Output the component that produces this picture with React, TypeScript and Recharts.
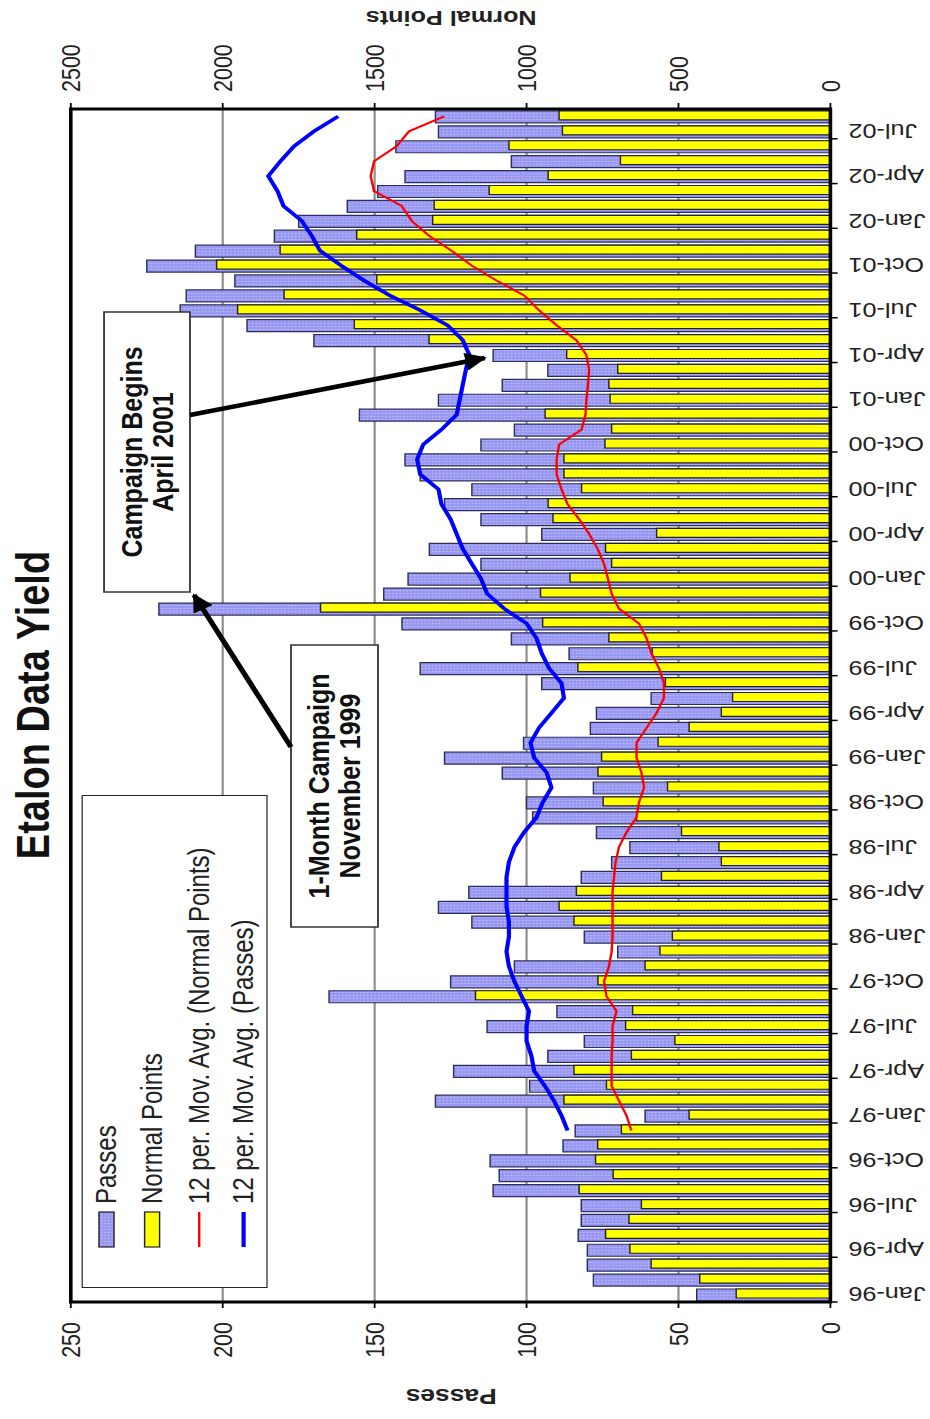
import { ComposedChart, Bar, Line, XAxis, YAxis, CartesianGrid, Legend } from 'recharts';

const months = [
  'Jan-96', 'Feb-96', 'Mar-96', 'Apr-96', 'May-96', 'Jun-96', 'Jul-96', 'Aug-96', 'Sep-96', 'Oct-96', 'Nov-96', 'Dec-96',
  'Jan-97', 'Feb-97', 'Mar-97', 'Apr-97', 'May-97', 'Jun-97', 'Jul-97', 'Aug-97', 'Sep-97', 'Oct-97', 'Nov-97', 'Dec-97',
  'Jan-98', 'Feb-98', 'Mar-98', 'Apr-98', 'May-98', 'Jun-98', 'Jul-98', 'Aug-98', 'Sep-98', 'Oct-98', 'Nov-98', 'Dec-98',
  'Jan-99', 'Feb-99', 'Mar-99', 'Apr-99', 'May-99', 'Jun-99', 'Jul-99', 'Aug-99', 'Sep-99', 'Oct-99', 'Nov-99', 'Dec-99',
  'Jan-00', 'Feb-00', 'Mar-00', 'Apr-00', 'May-00', 'Jun-00', 'Jul-00', 'Aug-00', 'Sep-00', 'Oct-00', 'Nov-00', 'Dec-00',
  'Jan-01', 'Feb-01', 'Mar-01', 'Apr-01', 'May-01', 'Jun-01', 'Jul-01', 'Aug-01', 'Sep-01', 'Oct-01', 'Nov-01', 'Dec-01',
  'Jan-02', 'Feb-02', 'Mar-02', 'Apr-02', 'May-02', 'Jun-02', 'Jul-02', 'Aug-02',
];

const passes = [
  44, 78, 80, 80, 83, 82, 82, 111, 109, 112, 88, 84,
  61, 130, 99, 124, 93, 81, 113, 90, 165, 125, 104, 70,
  81, 118, 129, 119, 82, 72, 66, 77, 98, 100, 78, 108,
  127, 101, 79, 77, 59, 95, 135, 86, 105, 141, 221, 147,
  139, 115, 132, 95, 115, 127, 118, 135, 140, 115, 104, 155,
  129, 108, 93, 111, 170, 192, 214, 212, 196, 225, 209, 183,
  175, 159, 149, 140, 105, 143, 129, 130,
];

const normalPoints = [
  310, 430, 590, 660, 740, 663, 622, 827, 715, 773, 766, 688,
  465, 877, 737, 844, 655, 512, 674, 651, 1168, 765, 610, 561,
  520, 844, 893, 836, 556, 359, 367, 490, 638, 748, 536, 765,
  753, 567, 465, 359, 322, 543, 831, 586, 729, 947, 1678, 954,
  857, 720, 740, 572, 913, 929, 819, 877, 877, 742, 720, 939,
  725, 729, 700, 868, 1321, 1567, 1951, 1798, 1493, 2020, 1811, 1559,
  1309, 1304, 1123, 929, 691, 1058, 882, 893,
];

// 12 per. moving averages (no value before Dec-96)
const pointsAvg = [
  null, null, null, null, null, null, null, null, null, null, null, 655,
  671, 696, 720, 720, 720, 717, 717, 704, 737, 745, 729, 720,
  717, 717, 717, 717, 712, 707, 696, 671, 638, 630, 613, 622,
  638, 638, 605, 572, 548, 548, 564, 589, 605, 630, 696, 720,
  732, 745, 766, 794, 827, 865, 885, 901, 901, 893, 819, 806,
  803, 798, 794, 803, 836, 901, 959, 1008, 1099, 1181, 1247, 1321,
  1378, 1411, 1502, 1513, 1502, 1428, 1387, 1271,
];

const passesAvg = [
  null, null, null, null, null, null, null, null, null, null, null, 86.5,
  88.5, 91, 94, 97.5, 98.4, 100, 100, 99.2, 101.6, 104, 105.8, 106.6,
  105.8, 105.8, 106.6, 106.6, 106.6, 105.8, 104, 100.8, 96.7, 94.7, 91.8, 93.4,
  97.5, 98.7, 95.9, 91.8, 87.7, 88.5, 92.6, 95, 96.7, 100, 107.4, 113,
  115, 118, 121, 123, 125, 128, 129, 135, 136, 134, 128, 123,
  122, 121, 120, 118.8, 121, 126, 135, 145, 153.5, 161, 168, 170.7,
  174, 180, 182, 185, 181, 176.5, 170, 162,
];

const passTicks = [0, 50, 100, 150, 200, 250];
const pointTicks = [0, 500, 1000, 1500, 2000, 2500];

// legend order as in the original
const seriesNames = [
  'Passes',
  'Normal Points',
  '12 per. Mov. Avg. (Normal Points)',
  '12 per. Mov. Avg. (Passes)',
];

const data = months.map((month, i) => ({
  month,
  passes: passes[i],
  points: normalPoints[i],
  pointsAvg: pointsAvg[i],
  passesAvg: passesAvg[i],
}));

// the chart is drawn lying on its side, then turned and stretched like the scan
const W = 1419;
const H = 775;
const STRETCH = 1.2;
const PLOT = { left: 117, right: 1310, top: 59, bottom: 692 };
const BAND = (PLOT.right - PLOT.left) / months.length;
const FONT = '"Liberation Sans", Arial, sans-serif';
const LEGEND_ROWS = [21, 59, 98, 135];

const MonthTick = (props: any) => {
  const { x, y, payload } = props;
  const tx = x - BAND / 2;
  return (
    <g>
      <line x1={tx} x2={tx} y1={PLOT.bottom} y2={PLOT.bottom + 6} stroke="#000" strokeWidth={1.5} />
      <text
        x={x}
        y={y}
        dy="0.35em"
        textAnchor="end"
        transform={`rotate(-90 ${x} ${y})`}
        fontSize={21}
        fill="#222"
        fontFamily={FONT}
      >
        {payload.value}
      </text>
    </g>
  );
};

const LegendBox = ({ payload }: any) => {
  const items = [...(payload || [])].sort(
    (a: any, b: any) => seriesNames.indexOf(a.value) - seriesNames.indexOf(b.value),
  );
  return (
    <div
      style={{
        width: 493,
        height: 155,
        border: '1.5px solid #222',
        background: '#fff',
        boxSizing: 'border-box',
        position: 'relative',
        fontFamily: FONT,
      }}
    >
      {items.map((entry: any, i: number) => (
        <div
          key={entry.value}
          style={{ position: 'absolute', left: 0, top: LEGEND_ROWS[i] - 15, height: 28, display: 'flex', alignItems: 'center' }}
        >
          <svg width={83} height={28}>
            {entry.type === 'line' ? (
              <line x1={40} x2={75} y1={14} y2={14} stroke={entry.color} strokeWidth={i === 3 ? 3.5 : 2} />
            ) : (
              <rect x={40} y={7.5} width={35} height={12.5} fill={entry.color} stroke="#222" strokeWidth={1.2} />
            )}
          </svg>
          <span style={{ fontSize: 24, color: '#222', whiteSpace: 'nowrap' }}>{entry.value}</span>
        </div>
      ))}
    </div>
  );
};

const Note = ({ x, y, w, h, lines }: { x: number; y: number; w: number; h: number; lines: string[] }) => (
  <g>
    <rect x={x} y={y} width={w} height={h} fill="#fff" stroke="#333" strokeWidth={1.5} />
    {lines.map((t, i) => (
      <text
        key={t}
        x={x + w / 2}
        y={y + h / 2 + (i - (lines.length - 1) / 2) * 26}
        textAnchor="middle"
        dominantBaseline="central"
        fontSize={25}
        fontWeight="bold"
        fill="#111"
        fontFamily={FONT}
      >
        {t}
      </text>
    ))}
  </g>
);

const App = () => {
  return (
    <div style={{ position: 'absolute', left: 0, top: 0, width: 930, height: 1419, overflow: 'hidden', background: '#fff' }}>
      <div
        style={{
          position: 'absolute',
          left: 0,
          top: 0,
          width: W,
          height: H,
          transformOrigin: '0 0',
          transform: `rotate(-90deg) translateX(-${W}px) scale(1, ${STRETCH})`,
        }}
      >
        <ComposedChart width={W} height={H} data={data} margin={{ top: 59, right: 49, bottom: 23, left: 57 }} barGap={-9}>
          <CartesianGrid yAxisId="passes" vertical={false} stroke="#8c8c8c" strokeWidth={1.8} />
          <XAxis
            dataKey="month"
            interval={2}
            height={60}
            tickSize={6}
            tickMargin={9}
            tickLine={false}
            axisLine={false}
            tick={<MonthTick />}
          />
          <YAxis
            yAxisId="passes"
            domain={[0, 250]}
            ticks={passTicks}
            width={60}
            tickSize={6}
            tickMargin={14}
            axisLine={false}
            tickLine={{ stroke: '#000', strokeWidth: 1.5 }}
            tick={{ fontSize: 21.5, fill: '#222', fontFamily: FONT }}
          />
          <YAxis
            yAxisId="points"
            orientation="right"
            domain={[0, 2500]}
            ticks={pointTicks}
            width={60}
            tickSize={6}
            tickMargin={11}
            axisLine={false}
            tickLine={{ stroke: '#000', strokeWidth: 1.5 }}
            tick={{ fontSize: 21.5, fill: '#222', fontFamily: FONT }}
          />
          <Legend
            layout="vertical"
            align="center"
            verticalAlign="middle"
            wrapperStyle={{ left: 131, top: 68, width: 493, height: 155 }}
            content={<LegendBox />}
          />
          <Bar
            yAxisId="passes"
            dataKey="passes"
            name={seriesNames[0]}
            barSize={12}
            fill="url(#passFill)"
            stroke="#2e2e5c"
            strokeWidth={1.2}
            isAnimationActive={false}
          />
          <Bar
            yAxisId="points"
            dataKey="points"
            name={seriesNames[1]}
            barSize={9}
            fill="#ffff00"
            stroke="#222"
            strokeWidth={1.2}
            isAnimationActive={false}
          />
          <Line
            yAxisId="points"
            dataKey="pointsAvg"
            name={seriesNames[2]}
            type="linear"
            stroke="#ff0000"
            strokeWidth={2}
            dot={false}
            isAnimationActive={false}
          />
          <Line
            yAxisId="passes"
            dataKey="passesAvg"
            name={seriesNames[3]}
            type="linear"
            stroke="#0000ff"
            strokeWidth={3.5}
            dot={false}
            isAnimationActive={false}
          />
        </ComposedChart>

        <svg width={W} height={H} style={{ position: 'absolute', left: 0, top: 0, pointerEvents: 'none' }}>
          <defs>
            <pattern id="passFill" width={3} height={3} patternUnits="userSpaceOnUse">
              <rect width={3} height={3} fill="#9999f4" />
              <rect width={1} height={1} fill="#c9c9ff" />
            </pattern>
            <marker id="head" viewBox="0 0 10 10" refX={9} refY={5} markerWidth={5} markerHeight={4} orient="auto">
              <path d="M0,0 L10,5 L0,10 z" fill="#000" />
            </marker>
          </defs>

          <rect
            x={PLOT.left}
            y={PLOT.top}
            width={PLOT.right - PLOT.left}
            height={PLOT.bottom - PLOT.top}
            fill="none"
            stroke="#000"
            strokeWidth={3}
          />

          <text x={714} y={27.5} textAnchor="middle" dominantBaseline="central" fontSize={38} fontWeight="bold" fill="#111" fontFamily={FONT}>
            Etalon Data Yield
          </text>
          <text x={22} y={376} textAnchor="middle" dominantBaseline="central" transform="rotate(-90 22 376)" fontSize={22} fontWeight="bold" fill="#222" fontFamily={FONT}>
            Passes
          </text>
          <text x={1401} y={376} textAnchor="middle" dominantBaseline="central" transform="rotate(-90 1401 376)" fontSize={21} fontWeight="bold" fill="#222" fontFamily={FONT}>
            Normal Points
          </text>

          <Note x={827} y={86.7} w={280} h={71.6} lines={['Campaign Begins', 'April 2001']} />
          <Note x={492} y={242.5} w={282} h={72.5} lines={['1-Month Campaign', 'November 1999']} />

          <line x1={1004} y1={158.3} x2={1061} y2={404} stroke="#000" strokeWidth={4.5} markerEnd="url(#head)" />
          <line x1={672} y1={242.5} x2={824} y2={161.7} stroke="#000" strokeWidth={4.5} markerEnd="url(#head)" />
        </svg>
      </div>
    </div>
  );
};

export default App;
